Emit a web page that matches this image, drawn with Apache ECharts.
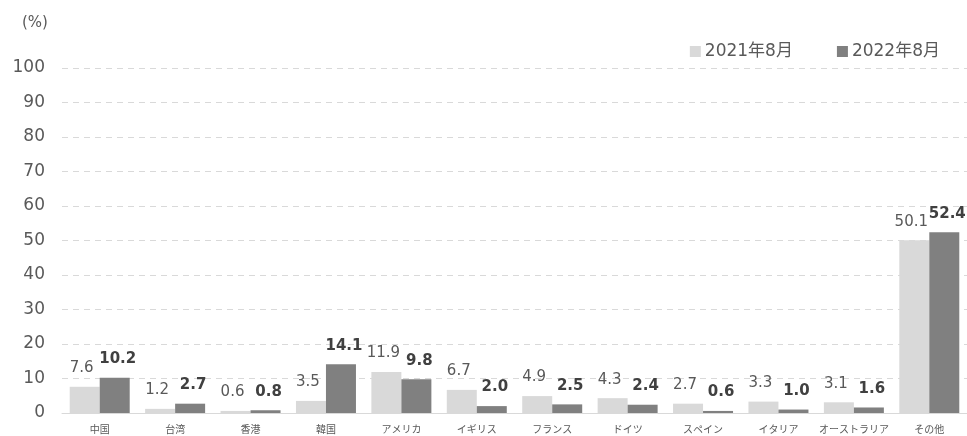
<!DOCTYPE html>
<html>
<head>
<meta charset="utf-8">
<script src="https://cdn.jsdelivr.net/npm/echarts@6/dist/echarts.min.js"></script>
<style>html,body{margin:0;padding:0;background:#fff;}#c{width:967px;height:436px;}</style>
</head>
<body>
<div id="c"></div>
<script>
const categories = ['中国','台湾','香港','韓国','アメリカ','イギリス','フランス','ドイツ','スペイン','イタリア','オーストラリア','その他'];
const seriesNames = ['2021年8月','2022年8月'];
const values2021 = [7.6,1.2,0.6,3.5,11.9,6.7,4.9,4.3,2.7,3.3,3.1,50.1];
const values2022 = [10.2,2.7,0.8,14.1,9.8,2.0,2.5,2.4,0.6,1.0,1.6,52.4];
const yTicks = [0,10,20,30,40,50,60,70,80,90,100];

const numFont = '"DejaVu Sans", Verdana, sans-serif';
const jpFont = '"Noto Sans CJK JP", sans-serif';

const chart = echarts.init(document.getElementById('c'));
chart.setOption({
  animation: false,
  title: {
    text: '(%)', left: 17, top: 11,
    textStyle: { fontFamily: numFont, fontSize: 15, fontWeight: 'normal', color: '#595959' }
  },
  legend: {
    data: seriesNames,
    right: 22, top: 38,
    itemWidth: 11, itemHeight: 11, itemGap: 44,
    icon: 'rect',
    textStyle: { fontFamily: '"DejaVu Sans", "Noto Sans CJK JP", sans-serif', fontSize: 17, color: '#595959', padding: [0,0,0,-1] }
  },
  grid: { left: 62, width: 908, top: 68, bottom: 23, containLabel: false },
  xAxis: {
    type: 'category', data: categories,
    axisLine: { lineStyle: { color: '#D9D9D9', width: 1 } },
    axisTick: { show: false },
    axisLabel: { interval: 0, fontFamily: jpFont, fontSize: 10, color: '#595959', margin: 11 }
  },
  yAxis: {
    type: 'value', min: yTicks[0], max: yTicks[yTicks.length-1], interval: 10,
    axisLine: { show: false }, axisTick: { show: false },
    axisLabel: { fontFamily: numFont, fontSize: 17, color: '#595959', margin: 17 },
    splitLine: { lineStyle: { color: '#D9D9D9', type: [6,5], width: 1 } }
  },
  series: [
    {
      name: seriesNames[0], type: 'bar', data: values2021,
      barWidth: 30, barGap: '0%',
      itemStyle: { color: '#D9D9D9' },
      label: { show: true, position: 'top', distance: 11, offset: [-3, 0], formatter: p => p.value.toFixed(1),
        fontFamily: numFont, fontSize: 15, color: '#595959' }
    },
    {
      name: seriesNames[1], type: 'bar', data: values2022,
      barWidth: 30, barGap: '0%',
      itemStyle: { color: '#808080' },
      label: { show: true, position: 'top', distance: 11, offset: [3, 0], formatter: p => p.value.toFixed(1),
        fontFamily: numFont, fontSize: 15, fontWeight: 'bold', color: '#404040' }
    }
  ]
});
</script>
</body>
</html>
